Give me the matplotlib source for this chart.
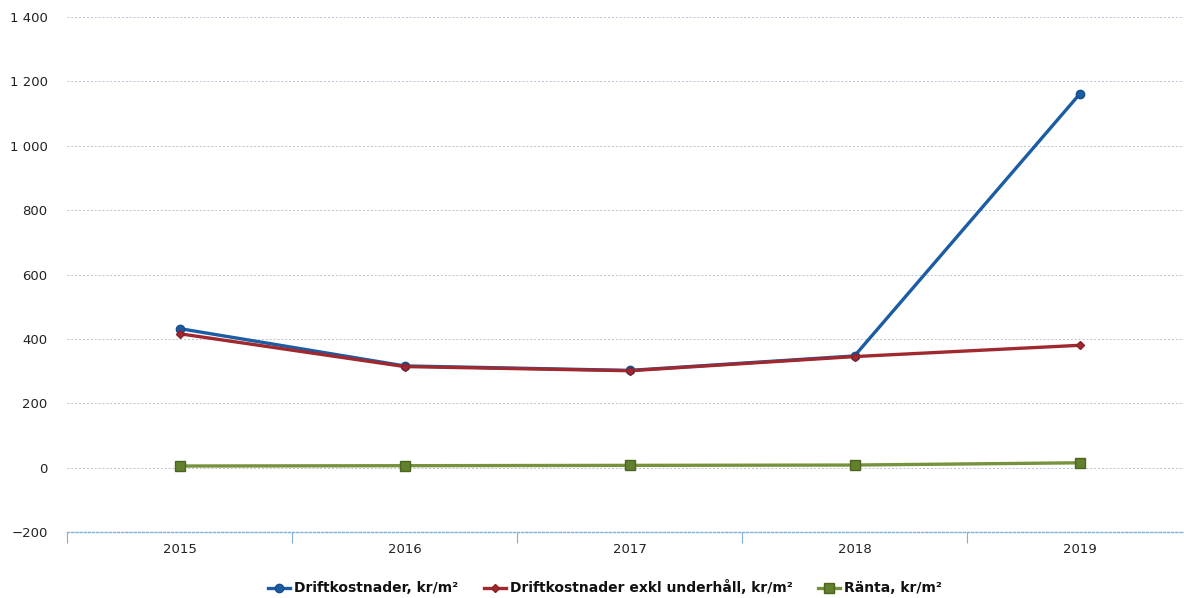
import matplotlib.pyplot as plt
from matplotlib.ticker import FuncFormatter, FixedLocator

years = ["2015", "2016", "2017", "2018", "2019"]
drift = [432, 316, 302, 347, 1160]
drift_exkl = [416, 314, 301, 345, 380]
ranta = [5, 6, 7, 8, 15]
yticks = [-200, 0, 200, 400, 600, 800, 1000, 1200, 1400]

labels = ["Driftkostnader, kr/m²", "Driftkostnader exkl underhåll, kr/m²", "Ränta, kr/m²"]

fig = plt.figure(figsize=(11.84, 5.98), dpi=100)
ax = fig.add_axes([67 / 1184, 1 - 532 / 598, (1192 - 67) / 1184, (532 - 17) / 598])

x = list(range(len(years)))
ax.plot(x, drift, color="#1c5ca3", lw=2.4, marker="o", ms=6, mec="#174d8a", label=labels[0], zorder=4)
ax.plot(x, drift_exkl, color="#a0282e", lw=2.4, marker="D", ms=4.5, mec="#8a2228", label=labels[1], zorder=5)
ax.plot(x, ranta, color="#76923c", lw=2.4, marker="s", ms=6.5, mfc="#62802e", mec="#4a661f", label=labels[2], zorder=3)

ax.set_xlim(-0.5, 4.5)
ax.set_ylim(-200, 1400)
ax.set_yticks(yticks)
ax.yaxis.set_major_formatter(FuncFormatter(lambda v, p: f"{int(v):,}".replace(",", " ").replace("-", "\u2212")))
ax.set_xticks(x)
ax.set_xticklabels(years)
ax.xaxis.set_minor_locator(FixedLocator([i - 0.5 for i in range(len(years) + 1)]))

ax.grid(axis="y", color="#bcc0d2", lw=0.7, ls=(0, (2, 2)))
for s in ["top", "right", "left"]:
    ax.spines[s].set_visible(False)
ax.spines["bottom"].set_color("#7fb0dc")
ax.spines["bottom"].set_linestyle((0, (1.5, 1.5)))
ax.spines["bottom"].set_linewidth(1.0)

ax.tick_params(axis="y", length=0, pad=14, labelsize=9.5, labelcolor="#222222")
ax.tick_params(axis="x", which="major", length=0, pad=8, labelsize=9.5, labelcolor="#222222")
ax.tick_params(axis="x", which="minor", length=8, width=0.8, color="#7fb0dc")

leg = fig.legend(loc="center", bbox_to_anchor=(605 / 1184, 1 - 588 / 598), ncol=3, frameon=False,
                 prop={"weight": "bold", "size": 10}, handlelength=1.6, handletextpad=0.3, columnspacing=1.8)
for t in leg.get_texts():
    t.set_color("#111111")

fig.savefig("out.png", dpi=100)
